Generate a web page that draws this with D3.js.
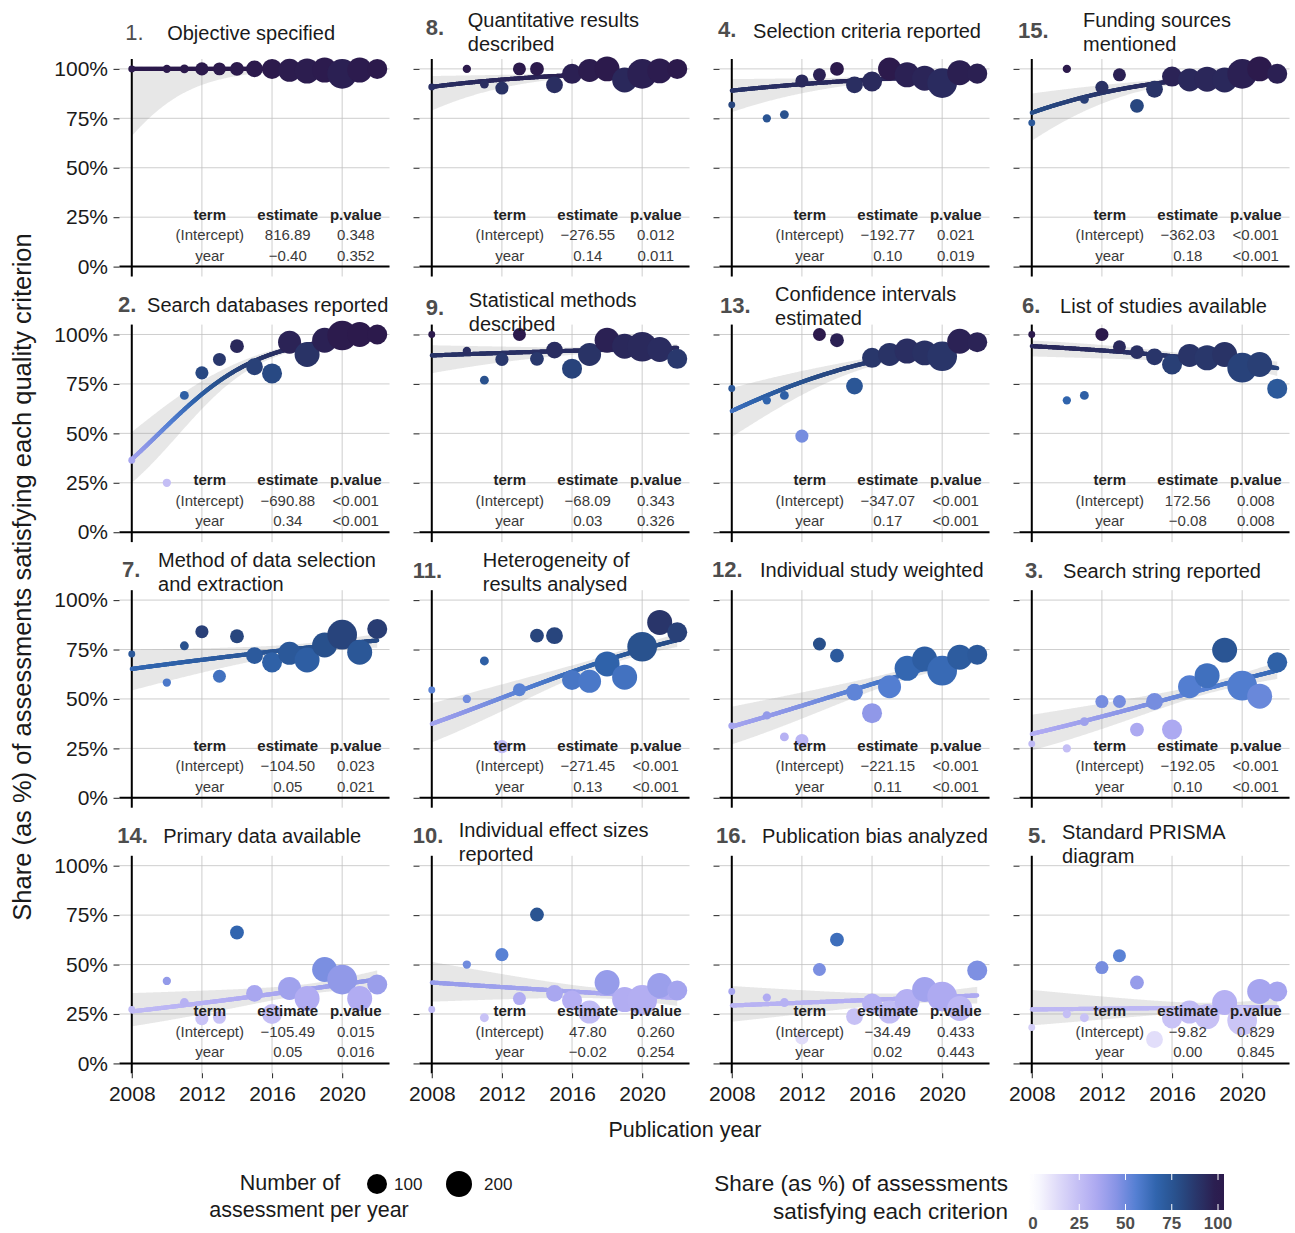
<!DOCTYPE html>
<html>
<head>
<meta charset="utf-8">
<script src="https://cdn.jsdelivr.net/npm/d3@7"></script>
<style>
  body { margin: 0; background: #fff; }
  svg text { font-family: "Liberation Sans", Arial, Helvetica, sans-serif; }
</style>
</head>
<body>
<svg id="chart" width="1295" height="1233"></svg>
<script>
// ---------------------------------------------------------------------------
// Data
// ---------------------------------------------------------------------------
const years = [2008, 2010, 2011, 2012, 2013, 2014, 2015, 2016, 2017, 2018, 2019, 2020, 2021, 2022];
const assessmentsPerYear = [11, 12, 13, 31, 30, 36, 62, 100, 145, 180, 180, 280, 180, 100];

const criterionNumbers = [1, 8, 4, 15, 2, 9, 13, 6, 7, 11, 12, 3, 14, 10, 16, 5];
const criterionTitles = [
  "Objective specified",
  "Quantitative results\ndescribed",
  "Selection criteria reported",
  "Funding sources\nmentioned",
  "Search databases reported",
  "Statistical methods\ndescribed",
  "Confidence intervals\nestimated",
  "List of studies available",
  "Method of data selection\nand extraction",
  "Heterogeneity of\nresults analysed",
  "Individual study weighted",
  "Search string reported",
  "Primary data available",
  "Individual effect sizes\nreported",
  "Publication bias analyzed",
  "Standard PRISMA\ndiagram"
];

// share (%) of assessments satisfying each criterion, one value per year above
const sharePanel1  = [100, 100, 100, 100, 100, 100, 100, 100, 99.3, 98.9, 99.4, 97.5, 99.4, 100];
const sharePanel8  = [90.9, 100, 92.3, 90.3, 100, 100, 91.9, 97.5, 99.2, 100, 94.4, 97.5, 99.0, 100];
const sharePanel4  = [81.8, 75.0, 76.9, 93.9, 97.0, 100, 91.9, 93.6, 100, 97.0, 95.3, 92.8, 98.1, 97.6];
const sharePanel15 = [72.7, 100, 84.6, 90.7, 97.0, 81.3, 89.7, 96.1, 94.4, 94.8, 94.4, 97.5, 100, 97.5];
const sharePanel2  = [36.4, 25.0, 69.2, 80.6, 87.4, 94.1, 83.7, 80.3, 96.1, 89.9, 97.1, 99.5, 100, 100];
const sharePanel9  = [100, 91.7, 76.9, 87.4, 100, 87.7, 92.1, 82.7, 89.9, 97.1, 94.1, 93.8, 92.4, 87.7];
const sharePanel13 = [72.7, 66.7, 69.2, 48.6, 100, 97.1, 73.9, 88.2, 89.9, 91.6, 90.7, 89.0, 96.6, 96.1];
const sharePanel6  = [100, 66.7, 69.2, 100, 93.8, 91.1, 88.7, 84.8, 89.4, 88.2, 89.9, 83.2, 84.8, 72.6];
const sharePanel7  = [72.7, 58.3, 76.9, 84.0, 61.5, 81.7, 71.9, 68.5, 73.1, 69.7, 77.3, 82.5, 73.6, 85.4];
const sharePanel11 = [54.5, 50.0, 69.2, 25.9, 54.7, 82.0, 82.0, 59.6, 58.9, 67.7, 61.0, 76.4, 88.7, 83.7];
const sharePanel12 = [36.4, 41.7, 30.8, 29.0, 77.8, 71.9, 53.4, 42.8, 56.2, 65.5, 70.2, 64.3, 71.1, 72.4];
const sharePanel3  = [27.3, 25.0, 38.5, 48.7, 48.7, 34.5, 48.7, 34.5, 56.2, 61.8, 74.7, 56.7, 51.4, 68.5];
const sharePanel14 = [27.3, 41.7, 30.8, 22.6, 23.3, 66.2, 35.4, 25.0, 37.9, 32.8, 47.5, 42.4, 32.8, 39.9];
const sharePanel10 = [27.3, 50.0, 23.1, 55.0, 32.8, 75.3, 35.4, 31.8, 26.0, 40.9, 32.3, 32.1, 39.4, 36.9];
const sharePanel16 = [36.4, 33.3, 30.8, 12.9, 47.5, 62.6, 23.7, 30.3, 26.0, 31.3, 37.4, 33.8, 27.8, 47.0];
const sharePanel5  = [18.2, 25.0, 23.1, 48.5, 54.5, 40.9, 12.1, 22.7, 26.0, 23.7, 30.8, 21.7, 36.4, 36.4];
const sharesByPanel = [
  sharePanel1, sharePanel8, sharePanel4, sharePanel15,
  sharePanel2, sharePanel9, sharePanel13, sharePanel6,
  sharePanel7, sharePanel11, sharePanel12, sharePanel3,
  sharePanel14, sharePanel10, sharePanel16, sharePanel5
];

// logistic regression: intercept estimate and fitted share (%) in the first year
const interceptEstimates = [816.89, -276.55, -192.77, -362.03, -690.88, -68.09, -347.07, 172.56,
                            -104.50, -271.45, -221.15, -192.05, -105.49, 47.80, -34.49, -9.82];
const fittedShareFirstYear = [99.9985, 90.9, 89.0, 77.8, 36.9, 89.4, 61.3, 94.1,
                              65.2, 37.4, 36.0, 32.3, 26.3, 40.9, 29.3, 27.3];
// p-values (null = below 0.001)
const interceptPValues = [0.348, 0.012, 0.021, null, null, 0.343, null, 0.008,
                          0.023, null, null, null, 0.015, 0.260, 0.433, 0.829];
const yearPValues = [0.352, 0.011, 0.019, null, null, 0.326, null, 0.008,
                     0.021, null, null, null, 0.016, 0.254, 0.443, 0.845];

const yTicks = [0, 25, 50, 75, 100];
const yTickLabels = ["0%", "25%", "50%", "75%", "100%"];
const xTicks = [2008, 2012, 2016, 2020];
const sizeLegendValues = [100, 200];
const colorLegendTicks = [0, 25, 50, 75, 100];

// ---------------------------------------------------------------------------
// Layout & style
// ---------------------------------------------------------------------------
const panelW = 270, panelH = 217.5;
const colLeft = c => 119.5 + 300 * c;
const rowTop = r => 59 + 265.6 * r;

// title placement per panel: [number dx, number dy, text dx, text dy, number weight]
// (dx from the first-year line, dy from the 100% line)
const titleLayout = [
  [-6.6, -29, 35.4, -29, "normal"], [-6, -34, 36, -42, "bold"], [-13.7, -32, 21.3, -31, "bold"], [-13.7, -31, 51.3, -42, "bold"],
  [-13.7, -22.6, 15.3, -22.6, "bold"], [-6, -19.3, 37, -27.6, "bold"], [-11.7, -21, 43.3, -33.6, "bold"], [-9.7, -21, 28.3, -21, "bold"],
  [-9.7, -23.3, 26.3, -33.3, "bold"], [-19, -21.7, 51, -33.3, "bold"], [-19.7, -22.7, 28.3, -22.7, "bold"], [-6.7, -21.7, 31.3, -21.7, "bold"],
  [-14.6, -23, 31.4, -23, "bold"], [-19, -23, 27, -29, "bold"], [-15.7, -23, 30.3, -23, "bold"], [-3.7, -23, 30.3, -27, "bold"]
];

// reversed "devon"-style ramp: white (0 %) to deep indigo (100 %)
const rampColors = ["#FFFFFF", "#E4E1FA", "#CAC4F6", "#B0ABF2", "#8A95E6", "#5580D3", "#3064AD", "#284F8A", "#293569", "#2C1A4C"];
const rampShares = rampColors.map((_, i) => 100 * i / (rampColors.length - 1));
const color = d3.scaleLinear().domain(rampShares).range(rampColors).interpolate(d3.interpolateRgb).clamp(true);

const nMin = d3.min(assessmentsPerYear), nMax = d3.max(assessmentsPerYear);
const radiusScale = d3.scaleSqrt().domain([0, nMax - nMin]).range([3.45, 14.85]);
const radius = n => radiusScale(Math.max(0, n - nMin));

const logistic = z => 1 / (1 + Math.exp(-z));
const logit = p => Math.log(p / (1 - p));
const firstYear = years[0], lastYear = years[years.length - 1];

const fmtEst = v => v.toFixed(2).replace("-", "\u2212");
const fmtP = v => v === null ? "<0.001" : v.toFixed(3);
const padLeft = arr => { const m = d3.max(arr, s => s.length); return arr.map(s => " ".repeat(m - s.length) + s); };

const svg = d3.select("#chart");

// ---------------------------------------------------------------------------
// Panels
// ---------------------------------------------------------------------------
sharesByPanel.forEach((shares, i) => {
  const r = Math.floor(i / 4), c = i % 4;
  const g = svg.append("g").attr("transform", `translate(${colLeft(c)},${rowTop(r)})`);
  const x = d3.scaleLinear().domain([2007.3, 2022.7]).range([0, panelW]);
  const y = d3.scaleLinear().domain([-5, 105]).range([panelH, 0]);

  // model: logit(share) = b0 + b1 * year
  const b0 = interceptEstimates[i];
  const b1 = (logit(fittedShareFirstYear[i] / 100) - b0) / firstYear;
  const eta = yr => b0 + b1 * yr;

  // covariance of (b0, b1) from the binomial information at the fitted shares
  let s0 = 0, s1 = 0, s2 = 0;
  years.forEach((yr, k) => {
    const p = logistic(eta(yr));
    const w = assessmentsPerYear[k] * p * (1 - p);
    const t = yr - firstYear;
    s0 += w; s1 += w * t; s2 += w * t * t;
  });
  const det = s0 * s2 - s1 * s1;
  const v00 = s2 / det, v01 = -s1 / det, v11 = s0 / det;
  const se = yr => { const t = yr - firstYear; return Math.sqrt(v00 + 2 * t * v01 + t * t * v11); };

  const grid = d3.range(firstYear, lastYear + 1e-9, 0.05);
  const fitted = grid.map(yr => ({
    yr,
    fit: 100 * logistic(eta(yr)),
    lo: 100 * logistic(eta(yr) - 1.96 * se(yr)),
    hi: 100 * logistic(eta(yr) + 1.96 * se(yr))
  }));

  // grid lines
  g.append("g").selectAll("line").data(yTicks).join("line")
    .attr("x1", 0).attr("x2", panelW).attr("y1", d => y(d)).attr("y2", d => y(d))
    .attr("stroke", "#c2c2c2").attr("stroke-width", 0.8);
  g.append("g").selectAll("line").data(xTicks).join("line")
    .attr("y1", 0).attr("y2", panelH).attr("x1", d => x(d)).attr("x2", d => x(d))
    .attr("stroke", "#c2c2c2").attr("stroke-width", 0.8);

  // y axis ticks (labels only on the first column)
  const yAxis = d3.axisLeft(y).tickValues(yTicks).tickSizeInner(6).tickSizeOuter(0).tickPadding(5.5)
    .tickFormat((d, k) => c === 0 ? yTickLabels[k] : "");
  const ya = g.append("g").call(yAxis);
  ya.select(".domain").remove();
  ya.selectAll("line").attr("stroke", "#333").attr("stroke-width", 1.1);
  ya.selectAll("text").attr("font-size", 21).attr("fill", "#1a1a1a").style("font-family", '"Liberation Sans", Arial, sans-serif');

  if (r === 3) {
    const xAxis = d3.axisBottom(x).tickValues(xTicks).tickSizeInner(5).tickSizeOuter(0).tickPadding(8).tickFormat(d3.format("d"));
    const xa = g.append("g").attr("transform", `translate(0,${panelH})`).call(xAxis);
    xa.select(".domain").remove();
    xa.selectAll("line").attr("stroke", "#333").attr("stroke-width", 1.1);
    xa.selectAll("text").attr("font-size", 21).attr("fill", "#1a1a1a").style("font-family", '"Liberation Sans", Arial, sans-serif');
  }

  // confidence band
  g.append("path").datum(fitted)
    .attr("d", d3.area().x(d => x(d.yr)).y0(d => y(d.lo)).y1(d => y(d.hi)))
    .attr("fill", "#999").attr("fill-opacity", 0.24);

  // reference lines at the first year and at 0 %
  g.append("line").attr("x1", x(firstYear)).attr("x2", x(firstYear)).attr("y1", 0).attr("y2", panelH)
    .attr("stroke", "#000").attr("stroke-width", 2);
  g.append("line").attr("x1", 0).attr("x2", panelW).attr("y1", y(0)).attr("y2", y(0))
    .attr("stroke", "#000").attr("stroke-width", 2);

  // fitted curve, coloured by the fitted share
  const segs = d3.pairs(fitted);
  g.append("g").selectAll("line").data(segs).join("line")
    .attr("x1", d => x(d[0].yr)).attr("y1", d => y(d[0].fit))
    .attr("x2", d => x(d[1].yr)).attr("y2", d => y(d[1].fit))
    .attr("stroke", d => color((d[0].fit + d[1].fit) / 2))
    .attr("stroke-width", 4.2).attr("stroke-linecap", "round");

  // yearly shares
  const pts = years.map((yr, k) => ({ yr, share: shares[k], n: assessmentsPerYear[k] }));
  g.append("g").selectAll("circle").data(pts).join("circle")
    .attr("cx", d => x(d.yr)).attr("cy", d => y(d.share)).attr("r", d => radius(d.n))
    .attr("fill", d => color(d.share));

  // coefficient table
  const xv = x(firstYear);
  const top = 160.5, step = 20.5;
  const colX = [xv + 78, xv + 156, xv + 224];
  const header = ["term", "estimate", "p.value"];
  const est = padLeft([fmtEst(b0), fmtEst(b1)]);
  const pv = padLeft([fmtP(interceptPValues[i]), fmtP(yearPValues[i])]);
  const rows = [["(Intercept)", est[0], pv[0]], ["year", est[1], pv[1]]];
  const tg = g.append("g").attr("text-anchor", "middle").attr("font-size", 15).style("white-space", "pre");
  header.forEach((h, k) => tg.append("text").attr("x", colX[k]).attr("y", top)
    .attr("font-weight", "bold").attr("fill", "#222").text(h));
  rows.forEach((row, j) => row.forEach((cell, k) => tg.append("text")
    .attr("x", colX[k]).attr("y", top + step * (j + 1)).attr("fill", "#3a3a3a").text(cell)));

  // panel title
  const [ndx, ndy, tdx, tdy, nw] = titleLayout[i];
  const y100 = y(100);
  g.append("text").attr("x", xv + ndx).attr("y", y100 + ndy)
    .attr("font-size", 22).attr("font-weight", nw).attr("fill", "#4d4d4d")
    .text(criterionNumbers[i] + ".");
  criterionTitles[i].split("\n").forEach((line, k) => {
    g.append("text").attr("x", xv + tdx).attr("y", y100 + tdy + 24 * k)
      .attr("font-size", 20).attr("fill", "#1a1a1a").text(line);
  });
});

// ---------------------------------------------------------------------------
// Axis titles
// ---------------------------------------------------------------------------
svg.append("text").attr("x", 685).attr("y", 1137).attr("text-anchor", "middle")
  .attr("font-size", 21.5).attr("fill", "#1a1a1a").text("Publication year");
svg.append("text").attr("transform", "translate(31,577) rotate(-90)").attr("text-anchor", "middle")
  .attr("font-size", 25.5).attr("fill", "#1a1a1a")
  .text("Share (as %) of assessments satisfying each quality criterion");

// ---------------------------------------------------------------------------
// Size legend
// ---------------------------------------------------------------------------
const sizeLeg = svg.append("g");
sizeLeg.append("text").attr("x", 290).attr("y", 1190).attr("text-anchor", "middle")
  .attr("font-size", 21.5).attr("fill", "#1a1a1a").text("Number of");
sizeLeg.append("text").attr("x", 309).attr("y", 1217).attr("text-anchor", "middle")
  .attr("font-size", 21.5).attr("fill", "#1a1a1a").text("assessment per year");
const sizeKeyX = [377, 459], sizeLabelX = [394, 484];
sizeLegendValues.forEach((v, k) => {
  sizeLeg.append("circle").attr("cx", sizeKeyX[k]).attr("cy", 1184).attr("r", radius(v)).attr("fill", "#000");
  sizeLeg.append("text").attr("x", sizeLabelX[k]).attr("y", 1190).attr("font-size", 17).attr("fill", "#1a1a1a").text(v);
});

// ---------------------------------------------------------------------------
// Colour legend
// ---------------------------------------------------------------------------
const colLeg = svg.append("g");
colLeg.append("text").attr("x", 1008).attr("y", 1191).attr("text-anchor", "end")
  .attr("font-size", 22.5).attr("fill", "#1a1a1a").text("Share (as %) of assessments");
colLeg.append("text").attr("x", 1008).attr("y", 1219).attr("text-anchor", "end")
  .attr("font-size", 22.5).attr("fill", "#1a1a1a").text("satisfying each criterion");

const legX = d3.scaleLinear().domain([0, 100]).range([1033, 1218]);
const barX0 = 1029, barX1 = 1224, barY0 = 1174, barY1 = 1210;
const grad = svg.append("defs").append("linearGradient").attr("id", "shareGrad")
  .attr("x1", "0%").attr("x2", "100%").attr("y1", "0%").attr("y2", "0%");
d3.range(0, 1.0001, 0.05).forEach(f => {
  const px = barX0 + f * (barX1 - barX0);
  grad.append("stop").attr("offset", (f * 100) + "%").attr("stop-color", color(legX.invert(px)));
});
colLeg.append("rect").attr("x", barX0).attr("y", barY0).attr("width", barX1 - barX0).attr("height", barY1 - barY0)
  .attr("fill", "url(#shareGrad)");
colorLegendTicks.forEach(v => {
  colLeg.append("line").attr("x1", legX(v)).attr("x2", legX(v)).attr("y1", barY0).attr("y2", barY0 + 6)
    .attr("stroke", "#fff").attr("stroke-width", 1);
  colLeg.append("line").attr("x1", legX(v)).attr("x2", legX(v)).attr("y1", barY1 - 6).attr("y2", barY1)
    .attr("stroke", "#fff").attr("stroke-width", 1);
  colLeg.append("text").attr("x", legX(v)).attr("y", 1229).attr("text-anchor", "middle")
    .attr("font-size", 17).attr("font-weight", "bold").attr("fill", "#4d4d4d").text(v);
});
</script>
</body>
</html>
